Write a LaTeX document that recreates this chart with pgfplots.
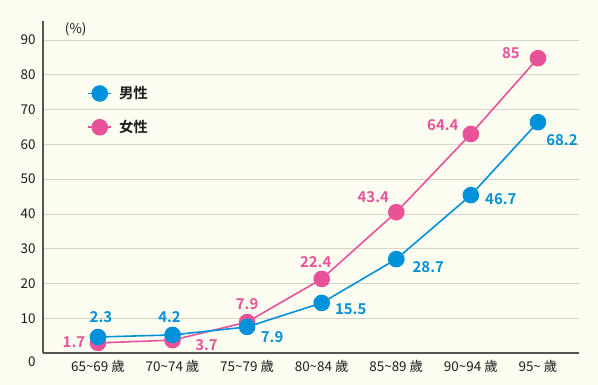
\documentclass[border=0pt]{standalone}
\usepackage{fontspec}
\setmainfont{Noto Sans CJK TC}[BoldFont={Noto Sans CJK TC Bold}]
\usepackage{pgfplots}
\usepackage{pgfplotstable}
\pgfplotsset{compat=1.18}
\definecolor{bgc}{RGB}{254,253,241}
\definecolor{mblue}{RGB}{0,145,219}
\definecolor{fpink}{RGB}{232,82,152}
\definecolor{gridc}{RGB}{214,212,200}
\definecolor{axc}{RGB}{85,85,85}
\definecolor{txt}{RGB}{30,30,30}

\pgfplotstableread{
x y lab dx dy
0   4.6  2.3  3  20
1   5.2  4.2  -3 18
2   7.5  7.9  25 -10
3   14.4 15.5 29 -6
4   27.0 28.7 32 -8
5   45.4 46.7 30 -4
5.9 66.4 68.2 24 -18
}\male

\pgfplotstableread{
x y lab dx dy
0   2.9  1.7  -24 1
1   3.7  3.7  34 -5
2   8.9  7.9  0 18
3   21.3 22.4 -6 17
4   40.5 43.4 -23 15
5   63.0 64.4 -28 9
5.9 84.8 85   -27 5
}\female

\begin{document}
\begin{tikzpicture}
\path[use as bounding box, fill=bgc] (0,0) rectangle (598bp,385bp);
\begin{axis}[
  at={(43bp,32bp)}, anchor=south west,
  width=536bp, height=332bp, scale only axis,
  xmin=-0.737, xmax=6.45,
  ymin=0, ymax=95.5,
  axis x line=bottom, axis y line=left,
  axis line style={-, axc, line width=1.2pt},
  xtick={0,1,2,3,4,5,5.9},
  xticklabels={65\textasciitilde69 歲,70\textasciitilde74 歲,75\textasciitilde79 歲,80\textasciitilde84 歲,85\textasciitilde89 歲,90\textasciitilde94 歲,95\textasciitilde\ 歲},
  ytick={0,10,...,90},
  yticklabel={\ifnum\ticknum=0 \raisebox{-13bp}[0pt][0pt]{0}\else\pgfmathprintnumber{\tick}\fi},
  major tick length=0pt,
  ymajorgrids, grid style={gridc, line width=0.8pt},
  tick label style={font=\fontsize{13.5}{15}\selectfont, text=txt},
  /pgf/number format/assume math mode=true,
  xticklabel style={yshift=-4bp},
  yticklabel style={xshift=-4bp},
  clip=false,
  legend style={draw=none, fill=none, at={(axis description cs:0.077,0.815)}, anchor=north west,
    font=\bfseries\fontsize{14.5}{16}\selectfont, row sep=16bp, text=txt},
  legend cell align=left,
  reverse legend,
  legend image code/.code={\draw[mark repeat=2,mark phase=2] plot coordinates {(0bp,0bp)(11.5bp,0bp)(23bp,0bp)}; \path (28bp,0bp);},
]
\node[anchor=center, font=\fontsize{13.5}{15}\selectfont, text=txt] at (axis description cs:0.061,0.975) {(\%)};
\addplot[fpink, line width=1.6pt, mark=*, mark size=7.5bp, mark options={solid, fill=fpink, draw=fpink},
  nodes near coords, point meta=explicit symbolic,
  visualization depends on={\thisrow{dx}\as\dx},
  visualization depends on={\thisrow{dy}\as\dy},
  every node near coord/.append style={anchor=center, xshift=\dx bp, yshift=\dy bp,
    font=\bfseries\fontsize{15}{16}\selectfont, text=fpink}]
  table[x=x, y=y, meta=lab]{\female};
\addlegendentry{女性}
\addplot[mblue, line width=1.6pt, mark=*, mark size=7.5bp, mark options={solid, fill=mblue, draw=mblue},
  nodes near coords, point meta=explicit symbolic,
  visualization depends on={\thisrow{dx}\as\dx},
  visualization depends on={\thisrow{dy}\as\dy},
  every node near coord/.append style={anchor=center, xshift=\dx bp, yshift=\dy bp,
    font=\bfseries\fontsize{15}{16}\selectfont, text=mblue}]
  table[x=x, y=y, meta=lab]{\male};
\addlegendentry{男性}
\end{axis}
\end{tikzpicture}
\end{document}
